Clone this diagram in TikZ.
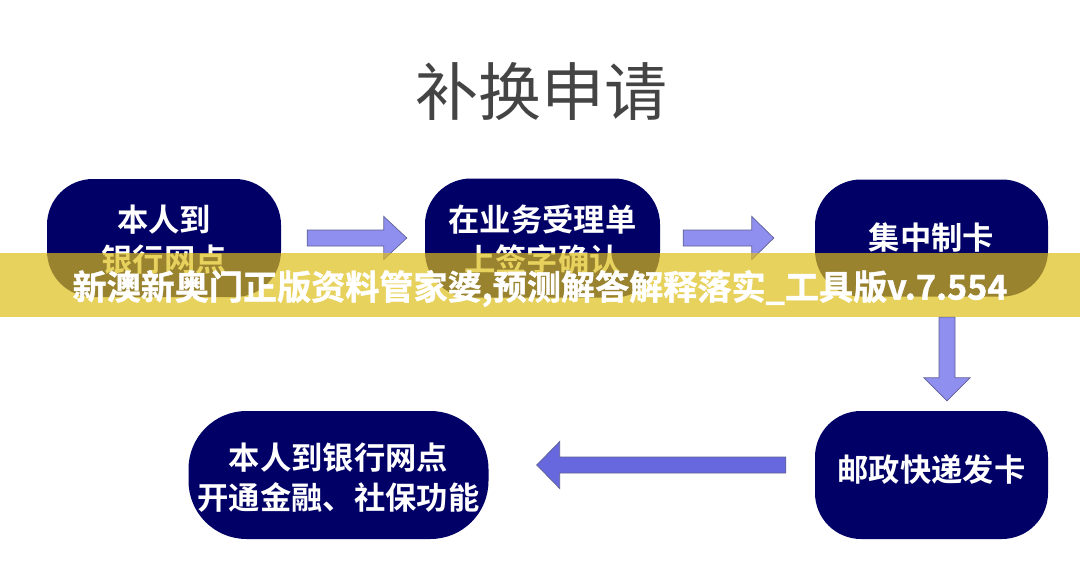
\documentclass[tikz,border=0pt]{standalone}
\usepackage{fontspec}
\setmainfont{Noto Sans CJK SC}
\newfontfamily\cjkbold{Noto Sans CJK SC Bold}
\newfontfamily\cjkheavy[FakeBold=1.2]{Noto Sans CJK SC Bold}
\usetikzlibrary{calc}
\definecolor{navybox}{RGB}{0,0,102}
\definecolor{arrowfill}{RGB}{143,143,240}
\definecolor{arrowfilldark}{RGB}{104,104,222}
\definecolor{arrowline}{RGB}{95,95,150}
\definecolor{bannercol}{RGB}{223,191,23}
\definecolor{titlecol}{RGB}{68,68,68}
\tikzset{
  stepbox/.style={fill=navybox,rounded corners=46pt,inner sep=0pt,text=white,align=center,
    font=\cjkbold\fontsize{31.3}{40}\selectfont},
  blockarrow/.style={fill=arrowfill,draw=arrowline,line width=0.7pt,line join=miter},
}
% #1 style, #2 start, #3 tip, #4 head length, #5 half shaft, #6 half head
\newcommand{\blockarrowpath}[6]{%
  \coordinate (hb) at ($(#3)!#4!(#2)$);
  \draw[#1] ($(#2)!#5!90:(#3)$) -- ($(hb)!#5!90:(#3)$) -- ($(hb)!#6!90:(#3)$) -- (#3)
    -- ($(hb)!#6!-90:(#3)$) -- ($(hb)!#5!-90:(#3)$) -- ($(#2)!#5!-90:(#3)$) -- cycle;
}
\begin{document}
\begin{tikzpicture}[x=1pt,y=-1pt]
\useasboundingbox (0,0) rectangle (1080,570);
\fill[white] (0,0) rectangle (1080,570);

\node[font=\fontsize{63}{70}\selectfont,text=titlecol,inner sep=0pt] (title) at (541,92) {补换申请};

\node[stepbox,minimum width=234pt,minimum height=118pt] (b1) at (164,238) {\rule{0pt}{30pt}本人到\\银行网点};
\node[stepbox,minimum width=235pt,minimum height=119pt] (b2) at (542.5,238) {\rule{0pt}{30pt}在业务受理单\\上签字确认};
\node[stepbox,minimum width=233pt,minimum height=117pt] (b3) at (931.5,238) {集中制卡};
\node[stepbox,minimum width=233pt,minimum height=128pt,text height=24pt,text depth=11pt] (b5) at (931.5,475) {邮政快递发卡};
\node[stepbox,rounded corners=58pt,minimum width=300pt,minimum height=128pt] (b4) at (338.5,475) {\rule{0pt}{32pt}本人到银行网点\\开通金融、社保功能};

\coordinate (a1s) at ($(b1.east)+(26,0)$);
\coordinate (a1e) at ($(b2.west)+(-18,0)$);
\coordinate (a2s) at ($(b2.east)+(23,0)$);
\coordinate (a2e) at ($(b3.west)+(-41,0)$);
\coordinate (a3s) at (947,317);
\coordinate (a3e) at ($(b5.north)+(15.5,-10)$);
\coordinate (a4s) at ($(b5.west)+(-29,-10)$);
\coordinate (a4e) at ($(b4.east)+(48,-10)$);
\blockarrowpath{blockarrow}{a1s}{a1e}{23pt}{8pt}{21.5pt}
\blockarrowpath{blockarrow}{a2s}{a2e}{22pt}{8pt}{21.5pt}
\blockarrowpath{blockarrow}{a3s}{a3e}{23pt}{8pt}{23pt}
\blockarrowpath{blockarrow,fill=arrowfilldark}{a4s}{a4e}{23pt}{8pt}{23.5pt}

\fill[bannercol,fill opacity=0.69] (0,253) rectangle (1080,317);
\node[font=\cjkheavy\fontsize{34.1}{40}\selectfont,text=white,inner sep=0pt] (banner) at (540,288.5) {新澳新奥门正版资料管家婆,预测解答解释落实\_工具版v.7.554};
\end{tikzpicture}
\end{document}
